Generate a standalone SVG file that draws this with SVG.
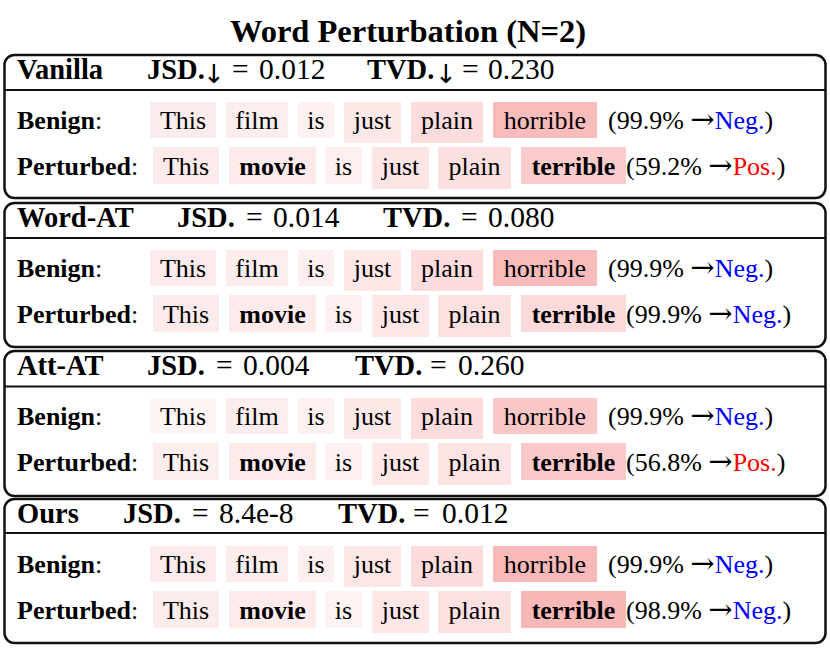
<svg xmlns="http://www.w3.org/2000/svg" width="830" height="649" viewBox="0 0 830 649">
<style>
text{font-family:"Liberation Serif","Times New Roman",serif;font-size:26px;fill:#000}
.b{font-weight:bold}
.h{font-size:28.5px}
.n{font-size:29.5px}
.ar{font-family:"DejaVu Serif","DejaVu Sans",serif;font-weight:normal;font-size:29px}
.ad{font-family:"DejaVu Sans",sans-serif;font-weight:normal;font-size:26px}
.title{font-size:32.5px;font-weight:bold;text-anchor:middle}
.w{text-anchor:middle}
.neg{fill:#0000ff}
.pos{fill:#ff0000}
.frame{fill:#fff;stroke:#111;stroke-width:2.5}
.div{stroke:#111;stroke-width:2}
</style>
<rect width="830" height="649" fill="#fff"/>
<text id="title" class="title" x="408" y="42">Word Perturbation (N=2)</text>

<!-- Panel 1: Vanilla -->
<g id="vanilla">
<rect class="frame" x="4.5" y="55" width="821" height="143" rx="10"/>
<line class="div" x1="4.5" y1="90" x2="825.5" y2="90"/>
<text class="h" y="79"><tspan class="b" x="17">Vanilla</tspan><tspan class="b" x="147">JSD.</tspan><tspan class="ad" x="203" dy="4">↓</tspan><tspan class="n" x="232" dy="-4">=</tspan><tspan class="n" x="259">0.012</tspan><tspan class="b" x="367">TVD.</tspan><tspan class="ad" x="435" dy="4">↓</tspan><tspan class="n" x="462" dy="-4">=</tspan><tspan class="n" x="488">0.230</tspan></text>
<g id="vanilla-benign">
<rect x="150" y="102" width="66" height="36" fill="#fdecec"/>
<rect x="226" y="102" width="62" height="36" fill="#fdeeee"/>
<rect x="298" y="102" width="36" height="36" fill="#fef1f1"/>
<rect x="344" y="102" width="57" height="41" fill="#fde8e8"/>
<rect x="411" y="102" width="72" height="41" fill="#fcdcdd"/>
<rect x="493" y="102" width="104" height="36" fill="#fabbbb"/>
<text x="17" y="129"><tspan class="b">Benign</tspan>:</text>
<text class="w" x="183" y="129">This</text>
<text class="w" x="257" y="129">film</text>
<text class="w" x="316" y="129">is</text>
<text class="w" x="372.5" y="129">just</text>
<text class="w" x="447" y="129">plain</text>
<text class="w" x="545" y="129">horrible</text>
<text x="608" y="129">(99.9% <tspan class="ar">→</tspan><tspan class="neg">Neg.</tspan>)</text>
</g>
<g id="vanilla-perturbed">
<rect x="153" y="147" width="66" height="37" fill="#fdeaea"/>
<rect x="229" y="147" width="87" height="37" fill="#fdeaea"/>
<rect x="325" y="147" width="37" height="37" fill="#fef0f0"/>
<rect x="372" y="147" width="57" height="42" fill="#fde5e5"/>
<rect x="438" y="147" width="73" height="42" fill="#fce0e0"/>
<rect x="521" y="147" width="105" height="37" fill="#fccccc"/>
<text x="17" y="175"><tspan class="b">Perturbed</tspan>:</text>
<text class="w" x="186" y="175">This</text>
<text class="w b" x="272.5" y="175">movie</text>
<text class="w" x="343.5" y="175">is</text>
<text class="w" x="400.5" y="175">just</text>
<text class="w" x="474.5" y="175">plain</text>
<text class="w b" x="573.5" y="175">terrible</text>
<text x="626" y="175">(59.2% <tspan class="ar">→</tspan><tspan class="pos">Pos.</tspan>)</text>
</g>
</g>

<!-- Panel 2: Word-AT -->
<g id="word-at" transform="translate(0,148)">
<rect class="frame" x="4.5" y="55" width="821" height="144" rx="10"/>
<line class="div" x1="4.5" y1="90" x2="825.5" y2="90"/>
<text class="h" y="79"><tspan class="b" x="17">Word-AT</tspan><tspan class="b" x="177">JSD.</tspan><tspan class="n" x="246">=</tspan><tspan class="n" x="273">0.014</tspan><tspan class="b" x="383">TVD.</tspan><tspan class="n" x="461">=</tspan><tspan class="n" x="488">0.080</tspan></text>
<g id="word-at-benign">
<rect x="150" y="102" width="66" height="36" fill="#fdeaea"/>
<rect x="226" y="102" width="62" height="36" fill="#fdeded"/>
<rect x="298" y="102" width="36" height="36" fill="#fdefef"/>
<rect x="344" y="102" width="57" height="41" fill="#fde7e7"/>
<rect x="411" y="102" width="72" height="41" fill="#fcdcdc"/>
<rect x="493" y="102" width="104" height="36" fill="#fabbbb"/>
<text x="17" y="129"><tspan class="b">Benign</tspan>:</text>
<text class="w" x="183" y="129">This</text>
<text class="w" x="257" y="129">film</text>
<text class="w" x="316" y="129">is</text>
<text class="w" x="372.5" y="129">just</text>
<text class="w" x="447" y="129">plain</text>
<text class="w" x="545" y="129">horrible</text>
<text x="608" y="129">(99.9% <tspan class="ar">→</tspan><tspan class="neg">Neg.</tspan>)</text>
</g>
<g id="word-at-perturbed">
<rect x="153" y="147" width="66" height="37" fill="#fdebeb"/>
<rect x="229" y="147" width="87" height="37" fill="#fdeaea"/>
<rect x="325" y="147" width="37" height="37" fill="#fef0f0"/>
<rect x="372" y="147" width="57" height="42" fill="#fde6e6"/>
<rect x="438" y="147" width="73" height="42" fill="#fde0e0"/>
<rect x="521" y="147" width="105" height="37" fill="#fcdada"/>
<text x="17" y="175"><tspan class="b">Perturbed</tspan>:</text>
<text class="w" x="186" y="175">This</text>
<text class="w b" x="272.5" y="175">movie</text>
<text class="w" x="343.5" y="175">is</text>
<text class="w" x="400.5" y="175">just</text>
<text class="w" x="474.5" y="175">plain</text>
<text class="w b" x="573.5" y="175">terrible</text>
<text x="626" y="175">(99.9% <tspan class="ar">→</tspan><tspan class="neg">Neg.</tspan>)</text>
</g>
</g>

<!-- Panel 3: Att-AT -->
<g id="att-at" transform="translate(0,296)">
<rect class="frame" x="4.5" y="55" width="821" height="145" rx="10"/>
<line class="div" x1="4.5" y1="90.5" x2="825.5" y2="90.5"/>
<text class="h" y="79"><tspan class="b" x="17">Att-AT</tspan><tspan class="b" x="147">JSD.</tspan><tspan class="n" x="216">=</tspan><tspan class="n" x="243">0.004</tspan><tspan class="b" x="355">TVD.</tspan><tspan class="n" x="430">=</tspan><tspan class="n" x="458">0.260</tspan></text>
<g id="att-at-benign">
<rect x="150" y="102" width="66" height="36" fill="#fef5f5"/>
<rect x="226" y="102" width="62" height="36" fill="#fdeded"/>
<rect x="298" y="102" width="36" height="36" fill="#fdf0f0"/>
<rect x="344" y="102" width="57" height="41" fill="#fde8e8"/>
<rect x="411" y="102" width="72" height="41" fill="#fcdcdd"/>
<rect x="493" y="102" width="104" height="36" fill="#fbc6c6"/>
<text x="17" y="129"><tspan class="b">Benign</tspan>:</text>
<text class="w" x="183" y="129">This</text>
<text class="w" x="257" y="129">film</text>
<text class="w" x="316" y="129">is</text>
<text class="w" x="372.5" y="129">just</text>
<text class="w" x="447" y="129">plain</text>
<text class="w" x="545" y="129">horrible</text>
<text x="608" y="129">(99.9% <tspan class="ar">→</tspan><tspan class="neg">Neg.</tspan>)</text>
</g>
<g id="att-at-perturbed">
<rect x="153" y="147" width="66" height="37" fill="#fdeeee"/>
<rect x="229" y="147" width="87" height="37" fill="#fdebeb"/>
<rect x="325" y="147" width="37" height="37" fill="#fef1f1"/>
<rect x="372" y="147" width="57" height="42" fill="#fde7e7"/>
<rect x="438" y="147" width="73" height="42" fill="#fde3e3"/>
<rect x="521" y="147" width="105" height="37" fill="#fbc9c9"/>
<text x="17" y="175"><tspan class="b">Perturbed</tspan>:</text>
<text class="w" x="186" y="175">This</text>
<text class="w b" x="272.5" y="175">movie</text>
<text class="w" x="343.5" y="175">is</text>
<text class="w" x="400.5" y="175">just</text>
<text class="w" x="474.5" y="175">plain</text>
<text class="w b" x="573.5" y="175">terrible</text>
<text x="626" y="175">(56.8% <tspan class="ar">→</tspan><tspan class="pos">Pos.</tspan>)</text>
</g>
</g>

<!-- Panel 4: Ours -->
<g id="ours" transform="translate(0,444)">
<rect class="frame" x="4.5" y="55" width="821" height="144" rx="10"/>
<line class="div" x1="4.5" y1="89" x2="825.5" y2="89"/>
<text class="h" y="79"><tspan class="b" x="17">Ours</tspan><tspan class="b" x="123">JSD.</tspan><tspan class="n" x="192">=</tspan><tspan class="n" x="219">8.4e-8</tspan><tspan class="b" x="338">TVD.</tspan><tspan class="n" x="413">=</tspan><tspan class="n" x="442">0.012</tspan></text>
<g id="ours-benign">
<rect x="150" y="102" width="66" height="36" fill="#fdeaea"/>
<rect x="226" y="102" width="62" height="36" fill="#fdeded"/>
<rect x="298" y="102" width="36" height="36" fill="#fdefef"/>
<rect x="344" y="102" width="57" height="41" fill="#fde6e6"/>
<rect x="411" y="102" width="72" height="41" fill="#fcdbdc"/>
<rect x="493" y="102" width="104" height="36" fill="#fab9b9"/>
<text x="17" y="129"><tspan class="b">Benign</tspan>:</text>
<text class="w" x="183" y="129">This</text>
<text class="w" x="257" y="129">film</text>
<text class="w" x="316" y="129">is</text>
<text class="w" x="372.5" y="129">just</text>
<text class="w" x="447" y="129">plain</text>
<text class="w" x="545" y="129">horrible</text>
<text x="608" y="129">(99.9% <tspan class="ar">→</tspan><tspan class="neg">Neg.</tspan>)</text>
</g>
<g id="ours-perturbed">
<rect x="153" y="147" width="66" height="37" fill="#fdecec"/>
<rect x="229" y="147" width="87" height="37" fill="#fdeaea"/>
<rect x="325" y="147" width="37" height="37" fill="#fef3f3"/>
<rect x="372" y="147" width="57" height="42" fill="#fde6e6"/>
<rect x="438" y="147" width="73" height="42" fill="#fde0e0"/>
<rect x="521" y="147" width="105" height="37" fill="#f9b8b8"/>
<text x="17" y="175"><tspan class="b">Perturbed</tspan>:</text>
<text class="w" x="186" y="175">This</text>
<text class="w b" x="272.5" y="175">movie</text>
<text class="w" x="343.5" y="175">is</text>
<text class="w" x="400.5" y="175">just</text>
<text class="w" x="474.5" y="175">plain</text>
<text class="w b" x="573.5" y="175">terrible</text>
<text x="626" y="175">(98.9% <tspan class="ar">→</tspan><tspan class="neg">Neg.</tspan>)</text>
</g>
</g>
</svg>
